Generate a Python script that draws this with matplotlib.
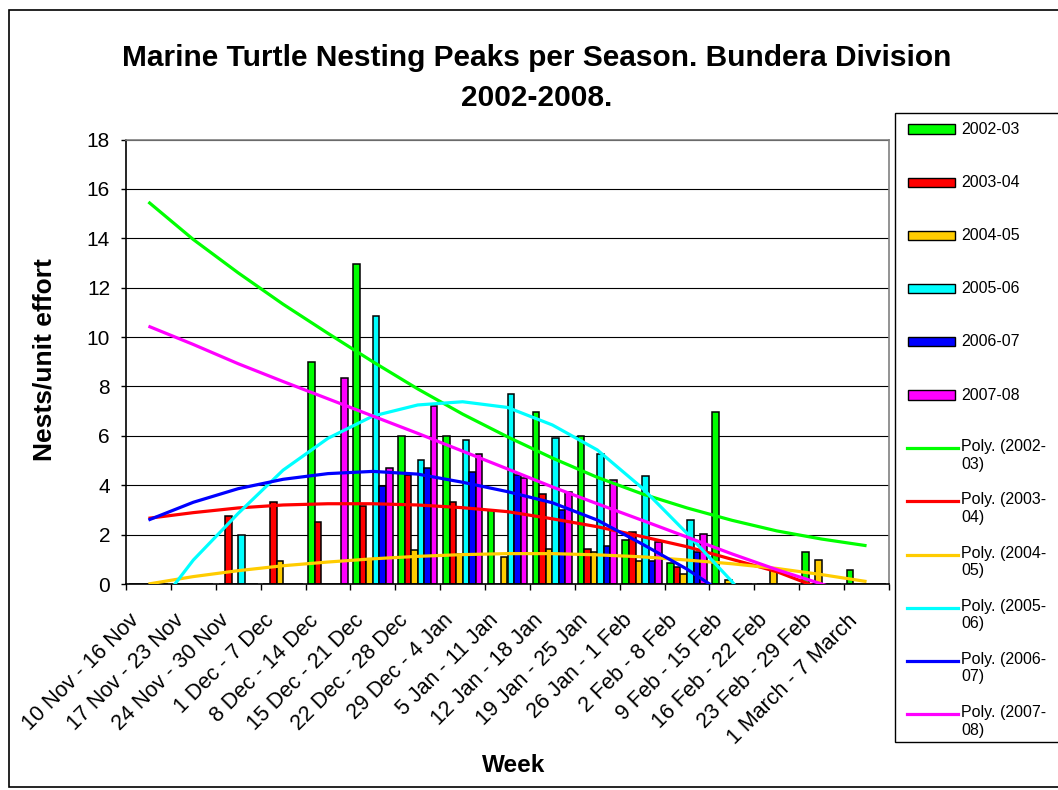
import numpy as np
import matplotlib
matplotlib.use("Agg")
import matplotlib.pyplot as plt
from matplotlib.patches import Rectangle
from matplotlib.lines import Line2D

plt.rcParams['font.family'] = ['Liberation Sans', 'DejaVu Sans']

weeks = ["10 Nov - 16 Nov", "17 Nov - 23 Nov", "24 Nov - 30 Nov", "1 Dec - 7 Dec",
         "8 Dec - 14 Dec", "15 Dec - 21 Dec", "22 Dec - 28 Dec", "29 Dec - 4 Jan",
         "5 Jan - 11 Jan", "12 Jan - 18 Jan", "19 Jan - 25 Jan", "26 Jan - 1 Feb",
         "2 Feb - 8 Feb", "9 Feb - 15 Feb", "16 Feb - 22 Feb", "23 Feb - 29 Feb",
         "1 March - 7 March"]

seasons = ["2002-03", "2003-04", "2004-05", "2005-06", "2006-07", "2007-08"]
colors = ["#00FF00", "#FF0000", "#FFCC00", "#00FFFF", "#0000FF", "#FF00FF"]

# nests per unit effort, one value per week
s2002 = [0, 0, 0, 0, 9.0, 12.95, 6.0, 6.0, 3.0, 6.95, 6.0, 1.8, 0.85, 6.95, 0, 1.3, 0.57]
s2003 = [0, 0, 2.75, 3.32, 2.5, 3.15, 4.42, 3.32, 0, 3.63, 1.4, 2.1, 0.7, 0, 0, 0, 0]
s2004 = [0, 0, 0, 0.94, 0, 1.0, 1.37, 1.2, 1.1, 1.43, 1.31, 0.94, 0.4, 0.15, 0.64, 0.97, 0]
s2005 = [0, 0, 2.0, 0, 0, 10.84, 5.04, 5.83, 7.7, 5.9, 5.26, 4.38, 2.59, 0, 0, 0, 0]
s2006 = [0, 0, 0, 0, 0, 3.97, 4.69, 4.52, 4.4, 3.0, 1.54, 0.94, 1.3, 0, 0, 0, 0]
s2007 = [0, 0, 0, 0, 8.35, 4.69, 7.2, 5.26, 4.28, 3.74, 4.21, 1.69, 2.02, 0, 0, 0, 0]

# polynomial trendlines, one value per week
p2002 = [15.47, 13.95, 12.6, 11.33, 10.15, 9.0, 7.9, 6.88, 5.96, 5.1, 4.32, 3.65, 3.08, 2.58, 2.15, 1.82, 1.55]
p2003 = [2.66, 2.89, 3.08, 3.2, 3.25, 3.25, 3.2, 3.09, 2.93, 2.64, 2.32, 1.92, 1.51, 1.0, 0.5, -0.2, -0.8]
p2004 = [0.0, 0.3, 0.54, 0.74, 0.89, 1.02, 1.12, 1.19, 1.23, 1.23, 1.18, 1.1, 0.97, 0.82, 0.63, 0.38, 0.1]
p2005 = [-1.4, 0.97, 2.86, 4.61, 5.9, 6.8, 7.25, 7.38, 7.15, 6.44, 5.43, 3.89, 2.05, 0.1, -2.2, -4.8, -7.6]
p2006 = [2.59, 3.31, 3.86, 4.24, 4.47, 4.56, 4.45, 4.12, 3.74, 3.29, 2.59, 1.62, 0.6, -0.6, -2.0, -3.6, -5.4]
p2007 = [10.44, 9.7, 8.92, 8.2, 7.5, 6.8, 6.1, 5.38, 4.66, 3.93, 3.25, 2.58, 1.9, 1.22, 0.58, 0.0, -0.6]

bars = [s2002, s2003, s2004, s2005, s2006, s2007]
trends = [p2002, p2003, p2004, p2005, p2006, p2007]

W, H = 1058, 790
fig = plt.figure(figsize=(W / 100, H / 100), dpi=100)


def fx(px):
    return px / W


def fy(py):
    return 1 - py / H


def open_box(x0, y0, x1, y1, lw):
    # left, top and bottom edges only; the right side runs off the picture
    fig.add_artist(Line2D([fx(x1), fx(x0), fx(x0), fx(x1)], [fy(y0), fy(y0), fy(y1), fy(y1)],
                          color='black', linewidth=lw, transform=fig.transFigure,
                          solid_joinstyle='miter', solid_capstyle='butt'))


ax = fig.add_axes([fx(126), fy(584), fx(889) - fx(126), fy(139.5) - fy(584)])

x = np.arange(len(weeks))
bw = 0.146
for k, (vals, c) in enumerate(zip(bars, colors)):
    ax.bar(x + (k - 2.5) * bw, vals, width=bw, color=c, edgecolor='black',
           linewidth=1.1, zorder=2)

for vals, c in zip(trends, colors):
    ax.plot(x, vals, color=c, linewidth=2.3, zorder=3, solid_capstyle='butt')

ax.set_xlim(-0.5, len(weeks) - 0.5)
ax.set_ylim(0, 18)
ax.set_yticks(np.arange(0, 19, 2))
ax.yaxis.grid(True, color='black', linewidth=0.8)
ax.set_axisbelow(True)

# week labels, slanted, hung just below each category
ax.set_xticks(x)
ax.set_xticklabels([])
for xi, lab in zip(x, weeks):
    ax.annotate(lab, xy=(xi, 0), xycoords=ax.get_xaxis_transform(),
                xytext=(-9, -24), textcoords='offset points', rotation=45,
                ha='right', va='center', rotation_mode='anchor', fontsize=15.5)
ax.set_xticks(np.arange(-0.5, len(weeks), 1), minor=True)
ax.tick_params(axis='x', which='major', length=0)
ax.tick_params(axis='x', which='minor', length=4.5, width=1, direction='out')
ax.tick_params(axis='y', length=3.5, width=1, direction='out', labelsize=15, pad=8)

for s in ['top', 'right']:
    ax.spines[s].set_color('#808080')
    ax.spines[s].set_linewidth(1.2)
for s in ['left', 'bottom']:
    ax.spines[s].set_color('black')
    ax.spines[s].set_linewidth(1.2)

fig.text(fx(537), fy(58), "Marine Turtle Nesting Peaks per Season. Bundera Division",
         ha='center', va='center', fontsize=21.5, fontweight='bold')
fig.text(fx(537), fy(98), "2002-2008.", ha='center', va='center',
         fontsize=21.5, fontweight='bold')
fig.text(fx(45), fy(360), "Nests/unit effort", rotation=90, ha='center', va='center',
         fontsize=19, fontweight='bold')
fig.text(fx(514), fy(765), "Week", ha='center', va='center', fontsize=17.5, fontweight='bold')

# outer chart border
open_box(9, 10, 1058, 787, 1.2)

# legend box (runs past the right edge like the original)
fig.patches.append(Rectangle((fx(895), fy(742)), fx(1058) - fx(895), fy(113) - fy(742),
                             transform=fig.transFigure, facecolor='white',
                             edgecolor='none'))
open_box(895, 113, 1058, 742, 1)
step = 53.2
for i, (name, c) in enumerate(zip(seasons, colors)):
    yy = 129 + step * i
    fig.patches.append(Rectangle((fx(908), fy(yy + 4.5)), fx(955) - fx(908), fy(yy - 4.5) - fy(yy + 4.5),
                                 transform=fig.transFigure, facecolor=c,
                                 edgecolor='black', linewidth=1))
    fig.text(fx(961), fy(yy), name, ha='left', va='center', fontsize=11.5)
for i, (name, c) in enumerate(zip(seasons, colors)):
    yy = 129 + step * (i + 6)
    fig.add_artist(Line2D([fx(907), fx(958)], [fy(yy), fy(yy)], color=c,
                          linewidth=2.3, transform=fig.transFigure))
    a, b = name.split('-')
    fig.text(fx(961), fy(yy - 9), "Poly. (" + a + "-\n" + b + ")", ha='left', va='top',
             fontsize=11.5, linespacing=1.2)

fig.savefig("out.png", dpi=100)
